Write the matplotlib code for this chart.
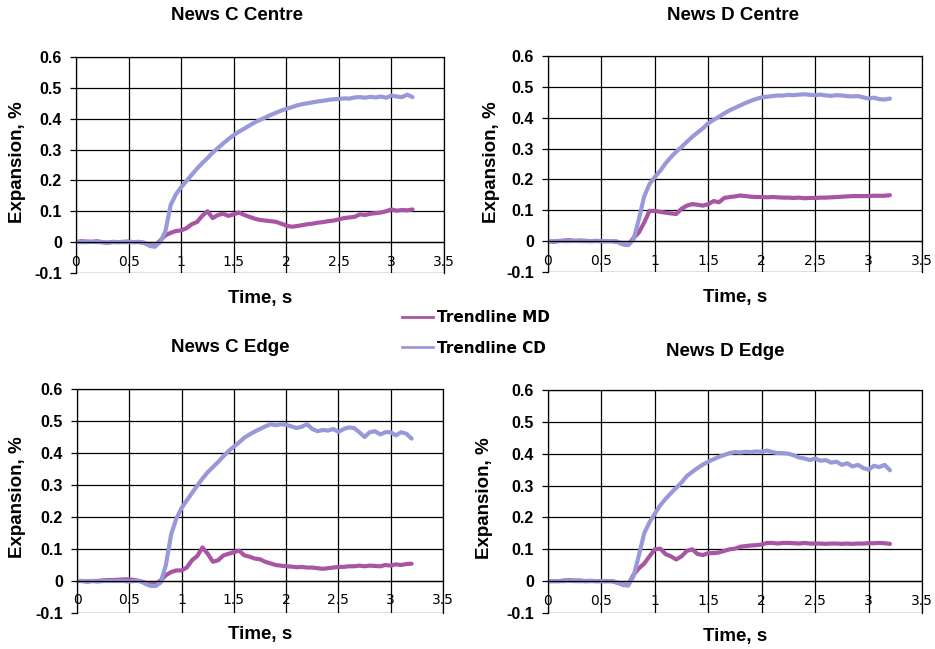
import numpy as np
import matplotlib
matplotlib.use("Agg")
import matplotlib.pyplot as plt
from matplotlib.lines import Line2D

# sample times, s (every 0.05 s from 0 to 3.2)
time = np.round(np.arange(65) * 0.05, 2)

# News C Centre
c_centre_cd = [0, 0, 0, 0.001, 0, 0, -0.001, 0, 0, 0, 0, 0, 0,
               -0.002, -0.012, -0.015, 0.0, 0.035, 0.12, 0.155, 0.178, 0.198, 0.218, 0.238,
               0.256, 0.272, 0.29, 0.305, 0.32, 0.334, 0.347, 0.358, 0.368, 0.378,
               0.388, 0.396, 0.404, 0.412, 0.419, 0.426, 0.432, 0.437, 0.443, 0.447,
               0.450, 0.453, 0.456, 0.458, 0.461, 0.463, 0.464, 0.466, 0.465, 0.469,
               0.470, 0.468, 0.471, 0.469, 0.472, 0.468, 0.475, 0.472, 0.470, 0.478, 0.470]
c_centre_md = [0, 0.003, 0.002, 0.001, 0.003, 0, -0.002, 0.001, 0, 0.001, 0.002, 0, 0.001,
               -0.003, -0.010, -0.012, 0.005, 0.022, 0.030, 0.036, 0.038, 0.045, 0.058, 0.065,
               0.085, 0.100, 0.078, 0.088, 0.092, 0.085, 0.090, 0.096, 0.088, 0.082,
               0.076, 0.072, 0.070, 0.068, 0.066, 0.060, 0.054, 0.050, 0.052, 0.055,
               0.058, 0.060, 0.063, 0.065, 0.068, 0.070, 0.074, 0.078, 0.080, 0.082,
               0.090, 0.088, 0.092, 0.094, 0.096, 0.100, 0.106, 0.102, 0.104, 0.103, 0.106]

# News D Centre
d_centre_cd = [0, 0, 0.001, 0, 0, 0.001, 0, 0, 0, 0, 0, 0, 0,
               -0.002, -0.010, -0.013, 0.005, 0.07, 0.145, 0.185, 0.208, 0.228, 0.252, 0.272,
               0.29, 0.305, 0.322, 0.338, 0.352, 0.366, 0.382, 0.393, 0.403, 0.414,
               0.424, 0.432, 0.440, 0.448, 0.455, 0.461, 0.466, 0.468, 0.470, 0.472,
               0.472, 0.474, 0.473, 0.475, 0.476, 0.474, 0.473, 0.475, 0.472, 0.471,
               0.473, 0.472, 0.470, 0.469, 0.470, 0.466, 0.462, 0.465, 0.460, 0.459, 0.462]
d_centre_md = [0, -0.002, 0, 0.002, 0.003, 0.001, 0.002, 0.001, 0, 0.001, 0, 0, 0,
               -0.002, -0.010, -0.012, 0.010, 0.028, 0.060, 0.098, 0.098, 0.095, 0.092, 0.090,
               0.088, 0.105, 0.115, 0.120, 0.118, 0.115, 0.120, 0.130, 0.126, 0.140,
               0.143, 0.145, 0.148, 0.146, 0.144, 0.143, 0.143, 0.142, 0.143, 0.142,
               0.141, 0.141, 0.140, 0.141, 0.139, 0.140, 0.140, 0.141, 0.141, 0.142,
               0.143, 0.144, 0.145, 0.146, 0.146, 0.146, 0.146, 0.147, 0.147, 0.147, 0.149]

# News C Edge
c_edge_cd = [0, 0, 0, 0, -0.002, 0, 0, 0, 0, 0, -0.002, 0, 0,
             -0.008, -0.015, -0.016, -0.005, 0.05, 0.145, 0.195, 0.228, 0.252, 0.275, 0.298,
             0.32, 0.34, 0.356, 0.372, 0.390, 0.406, 0.420, 0.433, 0.448, 0.458,
             0.467, 0.475, 0.483, 0.490, 0.487, 0.490, 0.488, 0.483, 0.478, 0.482,
             0.490, 0.475, 0.468, 0.472, 0.470, 0.475, 0.466, 0.475, 0.480, 0.478,
             0.465, 0.450, 0.465, 0.468, 0.458, 0.465, 0.465, 0.455, 0.465, 0.460, 0.445]
c_edge_md = [0, 0, -0.002, 0, 0, 0.002, 0.003, 0.003, 0.004, 0.005, 0.005, 0.003, 0,
             -0.005, -0.010, -0.010, 0.002, 0.018, 0.028, 0.033, 0.033, 0.042, 0.065, 0.078,
             0.105, 0.085, 0.060, 0.065, 0.080, 0.085, 0.090, 0.095, 0.080, 0.076,
             0.070, 0.068, 0.060, 0.055, 0.050, 0.048, 0.046, 0.045, 0.043, 0.044,
             0.042, 0.042, 0.040, 0.038, 0.040, 0.042, 0.044, 0.044, 0.046, 0.046,
             0.048, 0.046, 0.048, 0.047, 0.046, 0.050, 0.048, 0.052, 0.050, 0.053, 0.054]

# News D Edge
d_edge_cd = [0, 0, 0, 0, 0.001, 0, 0, 0, 0, 0, 0, 0, 0,
             -0.005, -0.012, -0.014, 0.015, 0.080, 0.150, 0.185, 0.212, 0.238, 0.258, 0.276,
             0.293, 0.310, 0.330, 0.343, 0.355, 0.366, 0.375, 0.383, 0.390, 0.396,
             0.402, 0.405, 0.404, 0.406, 0.405, 0.407, 0.406, 0.410, 0.405, 0.402,
             0.402, 0.400, 0.395, 0.388, 0.385, 0.380, 0.385, 0.378, 0.380, 0.372,
             0.375, 0.365, 0.370, 0.360, 0.365, 0.355, 0.350, 0.362, 0.358, 0.365, 0.348]
d_edge_md = [0, 0, 0, 0.002, 0.003, 0.002, 0.002, 0, 0.001, 0, 0, 0, 0,
             -0.005, -0.010, -0.012, 0.020, 0.040, 0.055, 0.078, 0.100, 0.102, 0.085, 0.078,
             0.068, 0.078, 0.095, 0.100, 0.085, 0.082, 0.088, 0.088, 0.090, 0.095,
             0.100, 0.102, 0.108, 0.110, 0.112, 0.113, 0.115, 0.120, 0.120, 0.118,
             0.120, 0.120, 0.119, 0.118, 0.120, 0.118, 0.118, 0.118, 0.117, 0.118,
             0.118, 0.117, 0.118, 0.117, 0.118, 0.118, 0.119, 0.119, 0.120, 0.119, 0.117]

titles = ["News C Centre", "News D Centre", "News C Edge", "News D Edge"]
md_series = [c_centre_md, d_centre_md, c_edge_md, d_edge_md]
cd_series = [c_centre_cd, d_centre_cd, c_edge_cd, d_edge_cd]

x_ticks = [0, 0.5, 1, 1.5, 2, 2.5, 3, 3.5]
x_tick_labels = ["0", "0.5", "1", "1.5", "2", "2.5", "3", "3.5"]
y_ticks = [-0.1, 0, 0.1, 0.2, 0.3, 0.4, 0.5, 0.6]
y_tick_labels = ["-0.1", "0", "0.1", "0.2", "0.3", "0.4", "0.5", "0.6"]

MD_COLOR = "#a855a3"
CD_COLOR = "#9999d9"
FONT = "Liberation Sans"

W, H = 935, 649
fig = plt.figure(figsize=(W / 100, H / 100), dpi=100)

# plot areas in pixels: left, top, right, bottom
boxes = [(76, 57, 444, 273), (548, 56, 922, 272),
         (77, 389, 443, 613), (548, 390, 922, 613)]
title_pos = [(237, 15), (733, 15), (230, 347), (725, 351)]
xlabel_pos = [(260, 299), (735, 298), (260, 635), (735, 637)]
ylabel_pos = [(18, 162), (491, 162), (18, 497), (484, 498)]

for i in range(4):
    l, t, r, b = boxes[i]
    ax = fig.add_axes([l / W, 1 - b / H, (r - l) / W, (b - t) / H])
    ax.plot(time, md_series[i], color=MD_COLOR, lw=3, solid_capstyle="round")
    ax.plot(time, cd_series[i], color=CD_COLOR, lw=3, solid_capstyle="round")
    ax.set_xlim(0, 3.5)
    ax.set_ylim(-0.1, 0.6)
    ax.set_xticks(x_ticks)
    ax.set_xticklabels(x_tick_labels, fontfamily=FONT, fontweight="bold", fontsize=11.5)
    ax.set_yticks(y_ticks)
    ax.set_yticklabels(y_tick_labels, fontfamily=FONT, fontweight="bold", fontsize=11.5)
    ax.grid(True, color="black", lw=0.9)
    ax.set_axisbelow(True)
    # x axis crosses at y = 0, like the Excel original
    ax.spines["bottom"].set_position(("data", 0))
    for s in ax.spines.values():
        s.set_linewidth(0.9)
    ax.tick_params(axis="x", length=0, pad=9)
    ax.tick_params(axis="y", length=4, width=0.9, pad=6)

    tx, ty = title_pos[i]
    fig.text(tx / W, 1 - ty / H, titles[i], ha="center", va="center",
             fontfamily=FONT, fontweight="bold", fontsize=13.5)
    lx, ly = xlabel_pos[i]
    fig.text(lx / W, 1 - ly / H, "Time, s", ha="center", va="center",
             fontfamily=FONT, fontweight="bold", fontsize=13.5)
    yx, yy = ylabel_pos[i]
    fig.text(yx / W, 1 - yy / H, "Expansion, %", ha="center", va="center",
             rotation=90, fontfamily=FONT, fontweight="bold", fontsize=13.5)

handles = [Line2D([], [], color=MD_COLOR, lw=2), Line2D([], [], color=CD_COLOR, lw=2)]
fig.legend(handles, ["Trendline MD", "Trendline CD"], loc="center",
           bbox_to_anchor=(476 / W, 1 - 333 / H), frameon=False,
           prop={"family": "DejaVu Sans", "weight": "bold", "size": 11},
           handlelength=2.0, handletextpad=0.3, labelspacing=1.0)

fig.savefig("out.png", dpi=100)
